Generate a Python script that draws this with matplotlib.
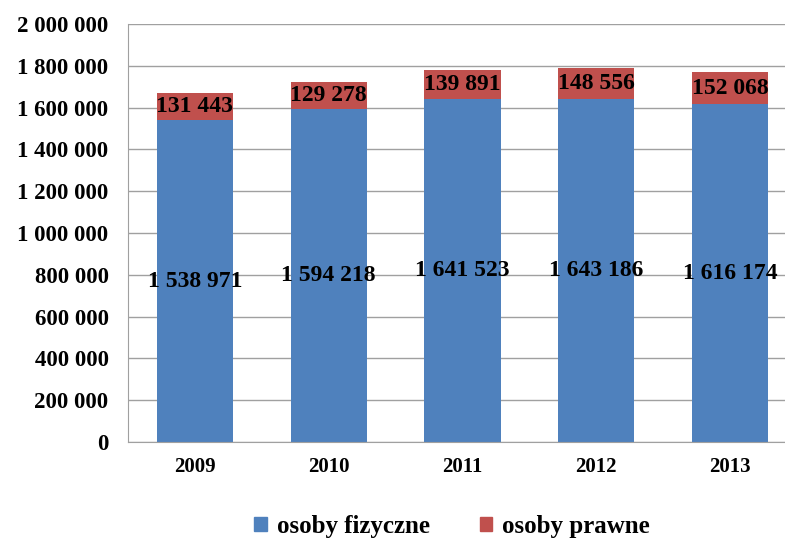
import matplotlib
matplotlib.use("Agg")
import matplotlib.pyplot as plt
from matplotlib.ticker import FuncFormatter

years = ["2009", "2010", "2011", "2012", "2013"]
fizyczne = [1538971, 1594218, 1641523, 1643186, 1616174]
prawne = [131443, 129278, 139891, 148556, 152068]

BLUE = "#4F81BD"
RED = "#C0504D"
plt.rcParams["font.family"] = ["Liberation Serif", "DejaVu Serif"]
plt.rcParams["font.weight"] = "bold"


def spaced(v):
    return f"{int(v):,}".replace(",", " ")


fig = plt.figure(figsize=(7.85, 5.41), dpi=100)
ax = fig.add_axes([128 / 785, 99 / 541, (797 - 128) / 785, (442 - 24) / 541])

x = range(len(years))
ax.bar(x, fizyczne, width=0.57, color=BLUE, zorder=2)
ax.bar(x, prawne, width=0.57, bottom=fizyczne, color=RED, zorder=2)

for i in x:
    ax.text(i, fizyczne[i] / 2, spaced(fizyczne[i]), ha="center", va="center",
            fontsize=17, fontweight="bold", zorder=3)
    ax.text(i, fizyczne[i] + prawne[i] / 2, spaced(prawne[i]), ha="center", va="center",
            fontsize=17, fontweight="bold", zorder=3)

ax.set_ylim(0, 2000000)
ax.set_xlim(-0.5, 4.5)
ax.set_yticks(range(0, 2000001, 200000))
ax.yaxis.set_major_formatter(FuncFormatter(lambda v, p: spaced(v)))
ax.set_xticks(list(x))
ax.set_xticklabels(years)
ax.tick_params(axis="y", labelsize=16.5, length=0, pad=14)
ax.tick_params(axis="x", labelsize=15, length=0, pad=11)
for lbl in ax.get_yticklabels() + ax.get_xticklabels():
    lbl.set_fontweight("bold")

ax.grid(axis="y", color="#A0A0A0", linewidth=1, zorder=1)
for s in ["top", "right"]:
    ax.spines[s].set_visible(False)
ax.spines["left"].set_color("#A0A0A0")
ax.spines["bottom"].set_color("#A0A0A0")

handles = [plt.Rectangle((0, 0), 1, 1, color=BLUE), plt.Rectangle((0, 0), 1, 1, color=RED)]
fig.legend(handles, ["osoby fizyczne", "osoby prawne"], loc="center",
           bbox_to_anchor=(452 / 785, 1 - 526 / 541), ncol=2, frameon=False,
           prop={"size": 18, "weight": "bold"}, handlelength=0.5, handleheight=0.5,
           handletextpad=0.4, columnspacing=2.0)

fig.savefig("out.png", dpi=100)
